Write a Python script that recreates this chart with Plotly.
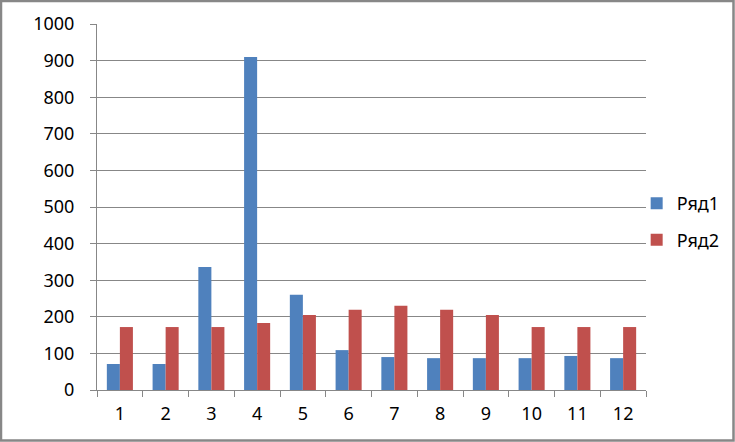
import plotly.graph_objects as go

categories = ["1", "2", "3", "4", "5", "6", "7", "8", "9", "10", "11", "12"]
series1 = [71, 71, 336, 910, 260, 109, 90, 87, 87, 87, 93, 87]
series2 = [172, 172, 172, 183, 205, 219, 230, 219, 205, 172, 172, 172]
y_ticks = [0, 100, 200, 300, 400, 500, 600, 700, 800, 900, 1000]

W, H = 735, 442
ML, MR, MT, MB = 97, 89, 24, 52
PW, PH = W - ML - MR, H - MT - MB

font_family = "Noto Sans, Open Sans, sans-serif"
grid = "#878787"

fig = go.Figure()
fig.add_trace(go.Bar(x=categories, y=series1, name="Ряд1",
                     marker=dict(color="#4F81BD", line=dict(width=0)),
                     legendgroup="a"))
fig.add_trace(go.Bar(x=categories, y=series2, name="Ряд2",
                     marker=dict(color="#C0504D", line=dict(width=0)),
                     legendgroup="b"))

# outer frame around the whole chart
fig.add_shape(type="rect", xref="paper", yref="paper",
              x0=(1 - ML) / PW, x1=(W - 1.5 - ML) / PW,
              y0=-(MB - 1.5) / PH, y1=(PH + MT - 1) / PH,
              line=dict(color=grid, width=2.5), fillcolor="rgba(0,0,0,0)",
              layer="below")

fig.update_layout(
    width=W, height=H,
    margin=dict(l=ML, r=MR, t=MT, b=MB, pad=0, autoexpand=False),
    paper_bgcolor="white", plot_bgcolor="white",
    barmode="group", bargap=0.43, bargroupgap=0,
    font=dict(family=font_family, size=18, color="#000000"),
    showlegend=True,
    legend=dict(x=0.983, xanchor="left", y=0.46, yanchor="middle",
                xref="paper", yref="paper",
                font=dict(size=18), traceorder="grouped",
                tracegroupgap=10, itemwidth=30,
                bgcolor="rgba(0,0,0,0)"),
)

fig.update_xaxes(
    type="category", tickson="boundaries",
    ticks="outside", ticklen=6, tickcolor=grid, tickwidth=1,
    showline=True, linecolor=grid, linewidth=1,
    showgrid=False, ticklabelstandoff=7,
    tickfont=dict(size=18, family=font_family),
)
fig.update_yaxes(
    range=[0, 1000], tickvals=y_ticks,
    ticks="outside", ticklen=6, tickcolor=grid, tickwidth=1,
    showline=True, linecolor=grid, linewidth=1,
    showgrid=True, gridcolor=grid, gridwidth=1,
    zeroline=False, ticklabelstandoff=12,
    tickfont=dict(size=18, family=font_family),
)

fig.write_html("out.html",
               config={"displayModeBar": False},
               post_script="document.body.style.margin='0';document.body.style.padding='0';")
